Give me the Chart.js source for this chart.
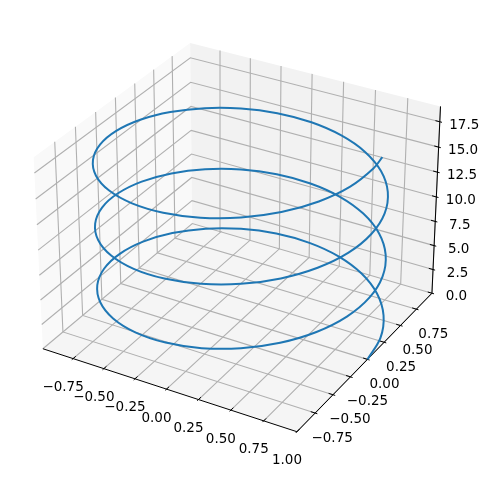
<!DOCTYPE html>
<html>
<head>
    <title>3D Helix</title>
    <script src="https://cdn.jsdelivr.net/npm/chart.js"></script>
    <style>
        body { margin: 0; background: #fff; }
        #wrap { width: 490px; height: 478px; }
    </style>
</head>
<body>
<div id="wrap"><canvas id="helixChart" width="490" height="478"></canvas></div>

<script>
    // helix values, just over three turns around the box
    const helixX = [1,.966,.866,.707,.5,.259,0,-.259,-.5,-.707,-.866,-.966,-1,-.966,-.866,-.707,-.5,-.259,0,.259,.5,.707,.866,.966,
        1,.966,.866,.707,.5,.259,0,-.259,-.5,-.707,-.866,-.966,-1,-.966,-.866,-.707,-.5,-.259,0,.259,.5,.707,.866,.966,
        1,.966,.866,.707,.5,.259,0,-.259,-.5,-.707,-.866,-.966,-1,-.966,-.866,-.707,-.5,-.259,0,.259,.5,.707,.866,.966,1,.989];
    const helixY = [0,.259,.5,.707,.866,.966,1,.966,.866,.707,.5,.259,0,-.259,-.5,-.707,-.866,-.966,-1,-.966,-.866,-.707,-.5,-.259,
        0,.259,.5,.707,.866,.966,1,.966,.866,.707,.5,.259,0,-.259,-.5,-.707,-.866,-.966,-1,-.966,-.866,-.707,-.5,-.259,
        0,.259,.5,.707,.866,.966,1,.966,.866,.707,.5,.259,0,-.259,-.5,-.707,-.866,-.966,-1,-.966,-.866,-.707,-.5,-.259,0,.15];
    const helixZ = [0,.26,.52,.79,1.05,1.31,1.57,1.83,2.09,2.36,2.62,2.88,3.14,3.40,3.67,3.93,4.19,4.45,4.71,4.97,5.24,5.50,5.76,6.02,
        6.28,6.54,6.81,7.07,7.33,7.59,7.85,8.11,8.38,8.64,8.90,9.16,9.42,9.69,9.95,10.21,10.47,10.73,11.00,11.26,11.52,11.78,12.04,12.30,
        12.57,12.83,13.09,13.35,13.61,13.87,14.14,14.40,14.66,14.92,15.18,15.45,15.71,15.97,16.23,16.49,16.76,17.02,17.28,17.54,17.80,18.06,18.33,18.59,18.85,19];

    const xTicks = [-0.75, -0.5, -0.25, 0, 0.25, 0.5, 0.75, 1];
    const yTicks = [-0.75, -0.5, -0.25, 0, 0.25, 0.5, 0.75];
    const zTicks = [0, 2.5, 5, 7.5, 10, 12.5, 15, 17.5];
    const xTickLabels = ['\u22120.75', '\u22120.50', '\u22120.25', '0.00', '0.25', '0.50', '0.75', '1.00'];
    const yTickLabels = ['\u22120.75', '\u22120.50', '\u22120.25', '0.00', '0.25', '0.50', '0.75'];
    const zTickLabels = ['0.0', '2.5', '5.0', '7.5', '10.0', '12.5', '15.0', '17.5'];
    const xLimits = [-0.999, 1];
    const yLimits = [-0.999, 0.999];
    const zLimits = [0, 19];

    const xLo = xLimits[0], xHi = xLimits[1];
    const yLo = yLimits[0], yHi = yLimits[1];
    const zLo = zLimits[0], zHi = zLimits[1];

    // same camera as elev 30, azim -60, dist 10 on a 4:4:3 box
    const boxX = 1.1905, boxY = 1.1905, boxZ = 0.8929;
    function project(x, y, z) {
        const qx = ((x - xLo) / (xHi - xLo) - 0.5) * boxX;
        const qy = ((y - yLo) / (yHi - yLo) - 0.5) * boxY;
        const qz = ((z - zLo) / (zHi - zLo) - 0.5) * boxZ;
        const d = 10 - (0.433 * qx - 0.75 * qy + 0.5 * qz);
        return {
            x: (0.866 * qx + 0.5 * qy) / d,
            y: (-0.25 * qx + 0.433 * qy + 0.866 * qz) / d
        };
    }

    function lineSet(points, color, width) {
        return {
            data: points.map(p => project(p[0], p[1], p[2])),
            borderColor: color,
            borderWidth: width,
            showLine: true,
            pointRadius: 0,
            tension: 0,
            fill: false,
            clip: false
        };
    }

    const gridColor = '#b0b0b0';
    const datasets = [];

    // helix goes first so it sits on top
    const helixPoints = helixX.map((x, i) => [x, helixY[i], helixZ[i]]);
    const helixSet = lineSet(helixPoints, '#1f77b4', 2);
    helixSet.tension = 0.33;
    datasets.push(helixSet);

    // axis lines and tick marks
    datasets.push(lineSet([[xLo, yLo, zLo], [xHi, yLo, zLo]], '#000', 1));
    datasets.push(lineSet([[xHi, yLo, zLo], [xHi, yHi, zLo]], '#000', 1));
    datasets.push(lineSet([[xHi, yHi, zLo], [xHi, yHi, zHi]], '#000', 1));
    const xDelta = (xHi - xLo) / 12, yDelta = (yHi - yLo) / 12;
    xTicks.forEach(t => datasets.push(lineSet([[t, yLo - 0.1 * yDelta, zLo], [t, yLo + 0.2 * yDelta, zLo]], '#000', 1)));
    yTicks.forEach(t => datasets.push(lineSet([[xHi + 0.1 * xDelta, t, zLo], [xHi - 0.2 * xDelta, t, zLo]], '#000', 1)));
    zTicks.forEach(t => datasets.push(lineSet([[xHi + 0.1 * xDelta, yHi, t], [xHi - 0.2 * xDelta, yHi, t]], '#000', 1)));

    // grid on floor and the two back walls
    xTicks.forEach(t => datasets.push(lineSet([[t, yLo, zLo], [t, yHi, zLo], [t, yHi, zHi]], gridColor, 1.1)));
    yTicks.forEach(t => datasets.push(lineSet([[xHi, t, zLo], [xLo, t, zLo], [xLo, t, zHi]], gridColor, 1.1)));
    zTicks.forEach(t => datasets.push(lineSet([[xLo, yLo, t], [xLo, yHi, t], [xHi, yHi, t]], gridColor, 1.1)));

    const panes = [
        { color: '#f9f9f9', corners: [[xLo, yLo, zLo], [xLo, yHi, zLo], [xLo, yHi, zHi], [xLo, yLo, zHi]] },
        { color: '#f2f2f2', corners: [[xLo, yHi, zLo], [xHi, yHi, zLo], [xHi, yHi, zHi], [xLo, yHi, zHi]] },
        { color: '#f5f5f5', corners: [[xLo, yLo, zLo], [xHi, yLo, zLo], [xHi, yHi, zLo], [xLo, yHi, zLo]] }
    ];

    const panePlugin = {
        id: 'panes',
        beforeDatasetsDraw(chart) {
            const ctx = chart.ctx, sx = chart.scales.x, sy = chart.scales.y;
            panes.forEach(pane => {
                ctx.beginPath();
                pane.corners.forEach((c, i) => {
                    const p = project(c[0], c[1], c[2]);
                    const px = sx.getPixelForValue(p.x), py = sy.getPixelForValue(p.y);
                    if (i === 0) ctx.moveTo(px, py); else ctx.lineTo(px, py);
                });
                ctx.closePath();
                ctx.fillStyle = pane.color;
                ctx.fill();
            });
        }
    };

    const labelPlugin = {
        id: 'tickLabels',
        afterDatasetsDraw(chart) {
            const ctx = chart.ctx, sx = chart.scales.x, sy = chart.scales.y;
            function put(text, p3, dx, dy) {
                const p = project(p3[0], p3[1], p3[2]);
                ctx.fillText(text, sx.getPixelForValue(p.x) + dx, sy.getPixelForValue(p.y) + dy);
            }
            ctx.save();
            ctx.font = '13.5px "DejaVu Sans"';
            ctx.fillStyle = '#000';
            ctx.textAlign = 'center';
            ctx.textBaseline = 'middle';
            xTicks.forEach((t, i) => put(xTickLabels[i], [t, yLo, zLo], -10, 29));
            yTicks.forEach((t, i) => put(yTickLabels[i], [xHi, t, zLo], 17, 25));
            zTicks.forEach((t, i) => put(zTickLabels[i], [xHi, yHi, t], 24.5, 3.7));
            ctx.restore();
        }
    };

    new Chart(document.getElementById('helixChart').getContext('2d'), {
        type: 'scatter',
        data: { datasets: datasets },
        plugins: [panePlugin, labelPlugin],
        options: {
            responsive: false,
            animation: false,
            layout: { padding: 0 },
            plugins: { legend: { display: false }, tooltip: { enabled: false } },
            scales: {
                x: { type: 'linear', display: false, min: -0.09857, max: 0.10184 },
                y: { type: 'linear', display: false, min: -0.10225, max: 0.09325 }
            }
        }
    });
</script>
</body>
</html>
